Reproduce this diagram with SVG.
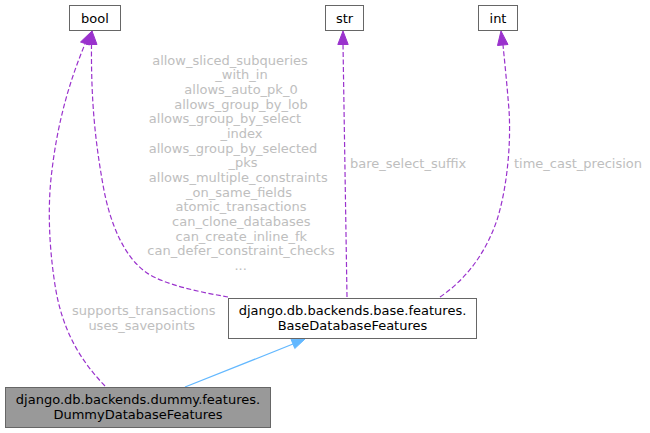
<svg xmlns="http://www.w3.org/2000/svg" width="650" height="433" viewBox="0 0 650 433">
<style>
.node rect{fill:#ffffff;stroke:#666666;stroke-width:1}
.node.gray rect{fill:#999999}
.node text{font-family:"DejaVu Sans",sans-serif;font-size:13px;fill:#000000;text-anchor:middle}
.lbl{font-family:"DejaVu Sans",sans-serif;font-size:13px;fill:#bebebe;text-anchor:middle}
.use{fill:none;stroke:#9a32cd;stroke-width:1.2;stroke-dasharray:5,2.5}
.usehead{fill:#9a32cd;stroke:#9a32cd}
.inh{fill:none;stroke:#63b8ff;stroke-width:1.2}
.inhhead{fill:#63b8ff;stroke:#63b8ff}
</style>
<rect width="650" height="433" fill="#ffffff"/>
<g id="connectors">
  <!-- Dummy -> bool -->
  <path class="use" d="M105,386 C80,360 62,330 55,285 C48,240 48,200 52,170 C58,120 70,80 85,44"/>
  <polygon class="usehead" points="92,31 80.5,42 89.5,45"/>
  <!-- Base -> bool -->
  <path class="use" d="M228,297 C200,292 165,285 147,273 C125,258 110,225 103,185 C95,140 91,100 91.5,44"/>
  <polygon class="usehead" points="92,31 86.5,44.5 97,44.5"/>
  <!-- Base -> str -->
  <path class="use" d="M347,297 L343,44"/>
  <polygon class="usehead" points="343,31 337.8,44.5 348.2,44.5"/>
  <!-- Base -> int -->
  <path class="use" d="M440,297 C465,280 485,255 497,220 C508,185 511,140 509,110 C507,85 505,65 503,45"/>
  <polygon class="usehead" points="501,31 497.5,45.5 508,44.5"/>
  <!-- Dummy -> Base (inheritance) -->
  <path class="inh" d="M185,387 L293,344"/>
  <polygon class="inhhead" points="305,339 291,339.2 294.8,348.5"/>
  <!-- labels -->
  <text class="lbl" x="230" y="64.5">allow_sliced_subqueries</text>
  <text class="lbl" x="241.5" y="79.2">_with_in</text>
  <text class="lbl" x="241" y="93.8">allows_auto_pk_0</text>
  <text class="lbl" x="241" y="108.5">allows_group_by_lob</text>
  <text class="lbl" x="225" y="123.2">allows_group_by_select</text>
  <text class="lbl" x="241.5" y="137.8">_index</text>
  <text class="lbl" x="233" y="152.5">allows_group_by_selected</text>
  <text class="lbl" x="243" y="167.2">_pks</text>
  <text class="lbl" x="238.3" y="181.8">allows_multiple_constraints</text>
  <text class="lbl" x="239" y="196.5">_on_same_fields</text>
  <text class="lbl" x="241" y="211.2">atomic_transactions</text>
  <text class="lbl" x="241.3" y="225.8">can_clone_databases</text>
  <text class="lbl" x="241.3" y="240.5">can_create_inline_fk</text>
  <text class="lbl" x="241" y="255.2">can_defer_constraint_checks</text>
  <text class="lbl" x="240.7" y="269.8">...</text>
  <text class="lbl" x="350" y="167.5" style="text-anchor:start">bare_select_suffix</text>
  <text class="lbl" x="514" y="167.5" style="text-anchor:start">time_cast_precision</text>
  <text class="lbl" x="143.8" y="315">supports_transactions</text>
  <text class="lbl" x="141.7" y="329.5">uses_savepoints</text>
</g>
<g id="node-bool" class="node">
  <rect x="69.5" y="5.5" width="51" height="25"/>
  <text x="95" y="22.5">bool</text>
</g>
<g id="node-str" class="node">
  <rect x="325.5" y="5.5" width="38" height="25"/>
  <text x="344.5" y="22.5">str</text>
</g>
<g id="node-int" class="node">
  <rect x="478.5" y="5.5" width="39" height="25"/>
  <text x="498" y="22.5">int</text>
</g>
<g id="node-base" class="node">
  <rect x="228.5" y="298.5" width="248" height="40"/>
  <text x="352.5" y="315">django.db.backends.base.features.</text>
  <text x="352.5" y="329.5">BaseDatabaseFeatures</text>
</g>
<g id="node-dummy" class="node gray">
  <rect x="5.5" y="387.5" width="265" height="40"/>
  <text x="138" y="404">django.db.backends.dummy.features.</text>
  <text x="138" y="418.5">DummyDatabaseFeatures</text>
</g>
</svg>
